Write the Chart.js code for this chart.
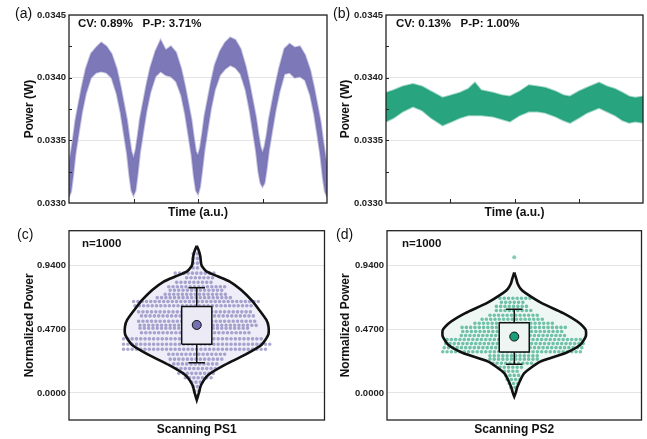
<!DOCTYPE html>
<html>
<head>
<meta charset="utf-8">
<script src="https://cdn.jsdelivr.net/npm/chart.js@4.4.1/dist/chart.umd.min.js"></script>
<style>
  html, body { margin: 0; padding: 0; background: #fff; }
  #wrap { position: relative; width: 647px; height: 439px; overflow: hidden; }
  canvas { position: absolute; }
</style>
</head>
<body>
<div id="wrap">
  <canvas id="chartA" width="330" height="222" style="left:0;top:0"></canvas>
  <canvas id="chartB" width="317" height="222" style="left:330px;top:0"></canvas>
  <canvas id="chartC" width="330" height="217" style="left:0;top:222px"></canvas>
  <canvas id="chartD" width="317" height="217" style="left:330px;top:222px"></canvas>
</div>
<script>
// ---- (a) scanning PS1, power band over time (upper / lower edge of the noisy trace)
const aTime = [0,0.8,1.6,2.5,3.7,5,6.5,8.5,10.5,12.5,14.5,16.5,18.5,20,21.3,22.5,23.4,24.2,
  25,25.8,26.6,27.5,28.7,30,31.5,33.5,35.5,37.5,39.5,41.5,43.5,45,46.3,47.5,48.4,49.2,
  50,50.8,51.6,52.5,53.7,55,56.5,58.5,60.5,62.5,64.5,66.5,68.5,70,71.3,72.5,73.4,74.2,
  75,75.8,76.6,77.5,78.7,80,81.5,83.5,85.5,87.5,89.5,91.5,93.5,95,96.3,97.5,98.4,99.2,100];
const aUpper = [0.03332,0.03341,0.03352,0.03366,0.03379,0.03393,0.03407,0.03419,0.03424,0.03428,0.03425,0.03419,0.03407,0.03393,0.03379,0.03366,0.03352,0.03341,
  0.03336,0.03342,0.03353,0.03367,0.03380,0.03394,0.03408,0.03421,0.03430,0.03422,0.03425,0.03420,0.03407,0.03393,0.03379,0.03366,0.03352,0.03341,
  0.03338,0.03344,0.03355,0.03369,0.03382,0.03396,0.03410,0.03421,0.03428,0.03432,0.03430,0.03423,0.03409,0.03395,0.03381,0.03368,0.03355,0.03345,
  0.03340,0.03345,0.03354,0.03367,0.03380,0.03394,0.03408,0.03423,0.03427,0.03424,0.03425,0.03418,0.03406,0.03392,0.03378,0.03365,0.03351,0.03340,
  0.03330];
const aLower = [0.03305,0.03309,0.03322,0.03339,0.03355,0.03372,0.03387,0.03400,0.03404,0.03405,0.03404,0.03400,0.03387,0.03372,0.03355,0.03339,0.03322,0.03310,
  0.03306,0.03310,0.03323,0.03340,0.03356,0.03373,0.03388,0.03401,0.03405,0.03402,0.03401,0.03397,0.03386,0.03371,0.03354,0.03338,0.03321,0.03310,
  0.03307,0.03313,0.03326,0.03342,0.03358,0.03375,0.03390,0.03402,0.03407,0.03410,0.03408,0.03403,0.03390,0.03374,0.03357,0.03341,0.03325,0.03316,
  0.03313,0.03316,0.03327,0.03342,0.03357,0.03373,0.03388,0.03403,0.03404,0.03400,0.03401,0.03398,0.03386,0.03371,0.03354,0.03337,0.03320,0.03309,
  0.03305];

// ---- (b) scanning PS2
const bTime = [0,3,6.5,10.5,14,17.5,22,25.5,28.8,32,34.6,37,41.6,45,48.2,52,55.6,59,62,66,69,71.6,75,78.2,82.9,86,89.1,92,94.6,97,100];
const bUpper = [0.03388,0.03390,0.03393,0.03395,0.03393,0.03389,0.03384,0.03386,0.03388,0.03391,0.03396,0.03390,0.03388,0.03386,0.03385,0.03389,0.03394,0.03393,0.03392,0.03389,0.03386,0.03385,0.03389,0.03392,0.03396,0.03393,0.03391,0.03388,0.03385,0.03384,0.03385];
const bLower = [0.03365,0.03368,0.03373,0.03377,0.03374,0.03368,0.03362,0.03365,0.03368,0.03370,0.03370,0.03370,0.03369,0.03367,0.03365,0.03370,0.03373,0.03373,0.03372,0.03369,0.03366,0.03364,0.03368,0.03372,0.03376,0.03373,0.03370,0.03366,0.03364,0.03365,0.03364];

// ---- (c) / (d) violins: normalized power vs relative density (half width)
const cLevels  = [1.088,1.05,1.009,0.96,0.935,0.898,0.861,0.824,0.762,0.688,0.614,0.540,0.491,0.429,0.355,0.281,0.207,0.133,0.059,0.0,-0.052];
const cDensity = [0,0.03,0.05,0.06,0.075,0.14,0.30,0.46,0.62,0.76,0.87,0.97,1.0,0.995,0.90,0.667,0.39,0.16,0.06,0.03,0];
const dLevels  = [0.891,0.85,0.812,0.77,0.738,0.664,0.590,0.516,0.466,0.417,0.355,0.294,0.232,0.146,0.047,0.0,-0.027];
const dDensity = [0,0.025,0.045,0.09,0.16,0.385,0.685,0.915,1.0,1.0,0.92,0.71,0.365,0.14,0.045,0.02,0];

// jittered point rows (value, left and right extent in density units)
const cRowValue = [1.03,0.995,0.96,0.925,0.886,0.852,0.818,0.785,0.76,0.73,0.705,0.676,0.645,0.60,0.57,0.53,0.50,0.479,0.445,0.40,0.36,0.323,0.286,0.25,0.215,0.18,0.145,0.113,0.08,0.047,0.015];
const cRowLeft  = [-0.05,-0.05,-0.05,-0.05,-0.30,-0.14,-0.28,-0.39,-0.37,-0.44,-0.55,-0.88,-0.86,-0.81,-0.77,-0.81,-0.79,-0.79,-0.77,-1.02,-1.02,-1.02,-0.39,-0.37,-0.32,-0.28,-0.25,-0.16,-0.07,-0.05,-0.03];
const cRowRight = [0.05,0.05,0.05,0.05,0.25,0.23,0.25,0.39,0.39,0.44,0.50,0.86,0.81,0.77,0.81,0.86,0.84,0.74,0.77,0.95,1.02,1.0,0.39,0.35,0.30,0.30,0.25,0.23,0.07,0.05,0.03];
const dRowValue = [0.70,0.67,0.64,0.61,0.575,0.545,0.515,0.485,0.455,0.425,0.395,0.365,0.335,0.305,0.275,0.25,0.22,0.19,0.16,0.13,0.10,0.07,0.04];
const dRowLeft  = [-0.20,-0.18,-0.25,-0.25,-0.34,-0.45,-0.55,-0.73,-0.72,-0.74,-0.94,-0.96,-0.98,-1.0,-0.34,-0.34,-0.30,-0.20,-0.14,-0.12,-0.10,-0.07,-0.05];
const dRowRight = [0.25,0.18,0.22,0.25,0.34,0.45,0.58,0.73,0.72,0.74,0.98,0.98,0.98,0.98,0.34,0.34,0.30,0.15,0.10,0.10,0.10,0.07,0.05];
const dOutliers = [1.004];

// box statistics
const groups = ['Scanning PS1', 'Scanning PS2'];
const boxQ1 = [0.360, 0.303];
const boxQ3 = [0.639, 0.520];
const whiskLow = [0.224, 0.212];
const whiskHigh = [0.779, 0.619];
const means = [0.503, 0.417];

const PURPLE = '#7570b3';
const GREEN = '#1b9e77';
Chart.defaults.font.family = '"Liberation Sans", Arial, sans-serif';
Chart.defaults.color = '#222';

const panelDecor = {
  id: 'panelDecor',
  afterDraw(chart, args, o) {
    const { ctx, chartArea: a } = chart;
    ctx.save();
    ctx.strokeStyle = '#222';
    ctx.lineWidth = 1.3;
    ctx.strokeRect(a.left, a.top, a.right - a.left, a.bottom - a.top);
    ctx.lineWidth = 1;
    (o.yTicks || []).forEach(v => {
      const y = Math.round(chart.scales.y.getPixelForValue(v)) + 0.5;
      ctx.beginPath(); ctx.moveTo(a.left, y); ctx.lineTo(a.left + 3, y); ctx.stroke();
    });
    (o.xTicks || []).forEach(v => {
      const x = Math.round(chart.scales.x.getPixelForValue(v)) + 0.5;
      ctx.beginPath(); ctx.moveTo(x, a.bottom); ctx.lineTo(x, a.bottom - 4); ctx.stroke();
    });
    ctx.fillStyle = '#111';
    ctx.textBaseline = 'middle';
    ctx.font = '14px "Liberation Sans", Arial, sans-serif';
    ctx.fillText(o.label, o.lx, o.ly);
    ctx.font = 'bold 11.5px "Liberation Sans", Arial, sans-serif';
    ctx.fillText(o.note, o.nx, o.ny);
    ctx.restore();
  }
};

function yAxis(min, max, title, width, titlePad) {
  return {
    type: 'linear', min, max,
    afterFit: s => { s.width = width; },
    border: { display: false },
    grid: { color: '#e4e4e4', drawTicks: false },
    ticks: { padding: 3, color: '#222', font: { size: 9.5, weight: 'bold' }, callback: v => v.toFixed(4) },
    title: { display: true, text: title, color: '#111', font: { size: 12, weight: 'bold' }, padding: { top: titlePad, bottom: 0 } }
  };
}

function xAxis(min, max, title, height, titlePad) {
  return {
    type: 'linear', min, max,
    afterFit: s => { s.height = height; },
    border: { display: false },
    grid: { display: false },
    ticks: { display: false },
    title: { display: true, text: title, color: '#111', font: { size: 12, weight: 'bold' }, padding: { top: 0, bottom: titlePad } }
  };
}

function bandChart(id, times, upper, lower, color, decor, yWidth, yTitlePad, padRight) {
  const up = times.map((t, i) => ({ x: t, y: upper[i] }));
  const lo = times.map((t, i) => ({ x: t, y: lower[i] }));
  const yOpts = yAxis(0.033, 0.0345, 'Power (W)', yWidth, yTitlePad);
  yOpts.ticks.stepSize = 0.0005;
  return new Chart(document.getElementById(id), {
    type: 'scatter',
    data: {
      datasets: [
        { data: up, showLine: true, borderColor: color + '70', borderWidth: 2, pointRadius: 0, tension: 0 },
        { data: lo, showLine: true, borderColor: color + '70', borderWidth: 2, pointRadius: 0, tension: 0,
          fill: '-1', backgroundColor: color + 'f0' }
      ]
    },
    options: {
      responsive: false, animation: false, events: [],
      layout: { padding: { top: 15, right: padRight, bottom: 0, left: 0 } },
      scales: { x: xAxis(0, 100, 'Time (a.u.)', 19, 2), y: yOpts },
      plugins: { legend: { display: false }, tooltip: { enabled: false }, panelDecor: decor }
    },
    plugins: [panelDecor]
  });
}

function violinChart(id, k, levels, density, rowV, rowL, rowR, outliers, color, fillColor, boxFill, decor, yWidth, yTitlePad, padRight) {
  const right = levels.map((v, i) => ({ x: density[i], y: v }));
  const left = levels.map((v, i) => ({ x: -density[i], y: v })).reverse();
  const shape = right.concat(left);
  const rows = [];
  rowV.forEach((v, i) => { rows.push({ x: rowL[i], y: v }, { x: rowR[i], y: v }, { x: null, y: null }); });
  const bw = 0.21, cw = 0.115;
  const box = [{ x: -bw, y: boxQ1[k] }, { x: bw, y: boxQ1[k] }, { x: bw, y: boxQ3[k] }, { x: -bw, y: boxQ3[k] }, { x: -bw, y: boxQ1[k] }];
  const whisk = [
    { x: 0, y: boxQ3[k] }, { x: 0, y: whiskHigh[k] }, { x: null, y: null },
    { x: -cw, y: whiskHigh[k] }, { x: cw, y: whiskHigh[k] }, { x: null, y: null },
    { x: 0, y: boxQ1[k] }, { x: 0, y: whiskLow[k] }, { x: null, y: null },
    { x: -cw, y: whiskLow[k] }, { x: cw, y: whiskLow[k] }
  ];
  const yOpts = yAxis(-0.2, 1.2, 'Normalized Power', yWidth, yTitlePad);
  yOpts.afterBuildTicks = s => { s.ticks = [0, 0.47, 0.94].map(v => ({ value: v })); };
  return new Chart(document.getElementById(id), {
    type: 'scatter',
    data: {
      datasets: [
        { data: [{ x: 0, y: means[k] }], pointRadius: 4.5, backgroundColor: color, borderColor: '#111', borderWidth: 1 },
        { data: whisk, showLine: true, pointRadius: 0, borderColor: '#111', borderWidth: 1.5, tension: 0 },
        { data: box, showLine: true, pointRadius: 0, borderColor: '#111', borderWidth: 1.5, tension: 0, fill: 'shape', backgroundColor: boxFill },
        { data: shape, showLine: true, pointRadius: 0, borderColor: '#111', borderWidth: 2.6, tension: 0.2, fill: false },
        { data: outliers.map(v => ({ x: 0, y: v })), pointRadius: 2, backgroundColor: color + '88', borderColor: color + '88', borderWidth: 0 },
        { data: rows, showLine: true, pointRadius: 0, borderColor: color + '99', borderWidth: 3.6,
          borderDash: [0, 4.3], borderCapStyle: 'round', tension: 0 },
        { data: shape, showLine: true, pointRadius: 0, borderWidth: 0, borderColor: 'rgba(0,0,0,0)', tension: 0.2, fill: 'shape', backgroundColor: fillColor }
      ]
    },
    options: {
      responsive: false, animation: false, events: [],
      layout: { padding: { top: 8, right: padRight, bottom: 0, left: 0 } },
      scales: { x: xAxis(-1.78, 1.78, groups[k], 19, 1.8), y: yOpts },
      plugins: { legend: { display: false }, tooltip: { enabled: false }, panelDecor: decor }
    },
    plugins: [panelDecor]
  });
}

const powerTicks = [0.03325, 0.0335, 0.03375, 0.034, 0.03425];
bandChart('chartA', aTime, aUpper, aLower, PURPLE,
  { label: '(a)', lx: 15, ly: 14, note: 'CV: 0.89%   P-P: 3.71%', nx: 78, ny: 24, yTicks: powerTicks, xTicks: [25, 50, 75] },
  69, 22, 3);
bandChart('chartB', bTime, bUpper, bLower, GREEN,
  { label: '(b)', lx: 3, ly: 14, note: 'CV: 0.13%   P-P: 1.00%', nx: 66, ny: 24, yTicks: powerTicks, xTicks: [25, 50, 75] },
  56, 8.8, 4);
violinChart('chartC', 0, cLevels, cDensity, cRowValue, cRowLeft, cRowRight, [], PURPLE, '#efeef8', '#ecebf5',
  { label: '(c)', lx: 17, ly: 13, note: 'n=1000', nx: 82, ny: 22 },
  69, 22, 2);
violinChart('chartD', 1, dLevels, dDensity, dRowValue, dRowLeft, dRowRight, dOutliers, GREEN, '#eef7f3', '#eef5f2',
  { label: '(d)', lx: 6, ly: 13, note: 'n=1000', nx: 72, ny: 22 },
  57, 8.8, 4);
</script>
</body>
</html>
